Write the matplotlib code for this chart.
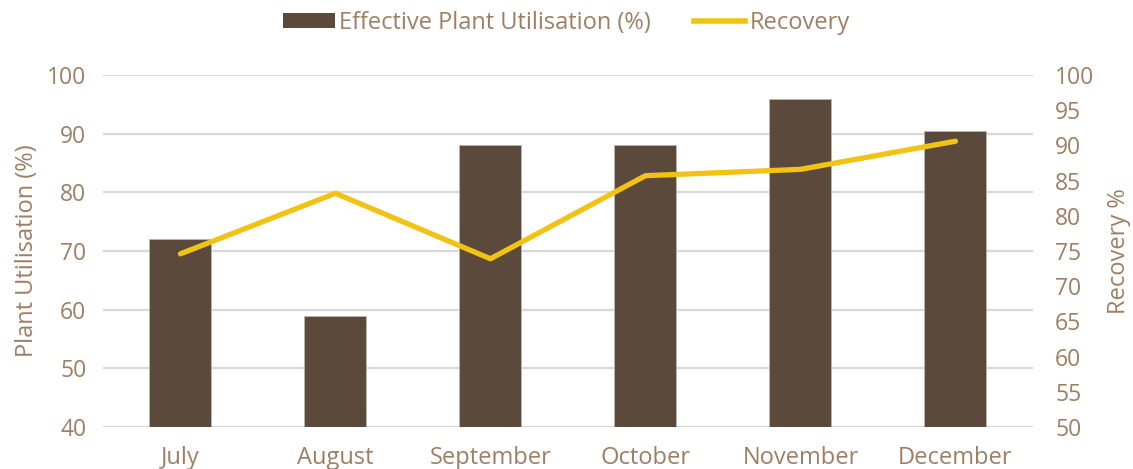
import matplotlib
matplotlib.use("Agg")
import matplotlib.pyplot as plt
from matplotlib.lines import Line2D
from matplotlib.patches import Patch

months = ["July", "August", "September", "October", "November", "December"]
utilisation = [72, 59, 88, 88, 96, 90.5]
recovery = [74.6, 83.2, 73.9, 85.7, 86.6, 90.6]

txt = "#9E7F63"
bar_col = "#5B4A3C"
line_col = "#F2C314"

plt.rcParams["font.family"] = ["Open Sans", "DejaVu Sans"]

fig = plt.figure(figsize=(11.33, 4.69), dpi=100)
ax = fig.add_axes([0.0909, 0.0896, 0.8208, 0.7504])
ax2 = ax.twinx()

x = list(range(len(months)))
ax.bar(x, utilisation, width=0.4, color=bar_col, edgecolor="#BBB5B0", linewidth=0.6, zorder=2)
ax2.plot(x, recovery, color=line_col, linewidth=3.8, solid_capstyle="round", zorder=3)

ax.set_xlim(-0.5, 5.5)
ax.set_ylim(40, 100)
ax2.set_ylim(50, 100)
ax.set_yticks(range(40, 101, 10))
ax2.set_yticks(range(50, 101, 5))
ax.set_xticks(x)
ax.set_xticklabels(months, fontsize=17)
ax.yaxis.grid(True, color="#D9D9D9", linewidth=1.6, zorder=0)
ax.set_axisbelow(True)

for a in (ax, ax2):
    for s in a.spines.values():
        s.set_visible(False)
    a.tick_params(length=0, colors=txt, labelsize=16.5)
ax.tick_params(axis="x", labelsize=17, pad=14)
ax.tick_params(axis="y", pad=12)
ax2.tick_params(axis="y", pad=16)

ax.set_ylabel("Plant Utilisation (%)", color=txt, fontsize=17, labelpad=6)
ax2.set_ylabel("Recovery %", color=txt, fontsize=17, rotation=90, labelpad=9)

handles = [Patch(facecolor=bar_col, label="Effective Plant Utilisation (%)"),
           Line2D([0], [0], color=line_col, linewidth=4, label="Recovery")]
fig.legend(handles=handles, loc="upper center", bbox_to_anchor=(0.5, 1.022), ncol=2,
           frameon=False, fontsize=17, labelcolor=txt, handlelength=2.2,
           handleheight=0.6, handletextpad=0.2, columnspacing=1.8)

fig.savefig("out.png", dpi=100)
